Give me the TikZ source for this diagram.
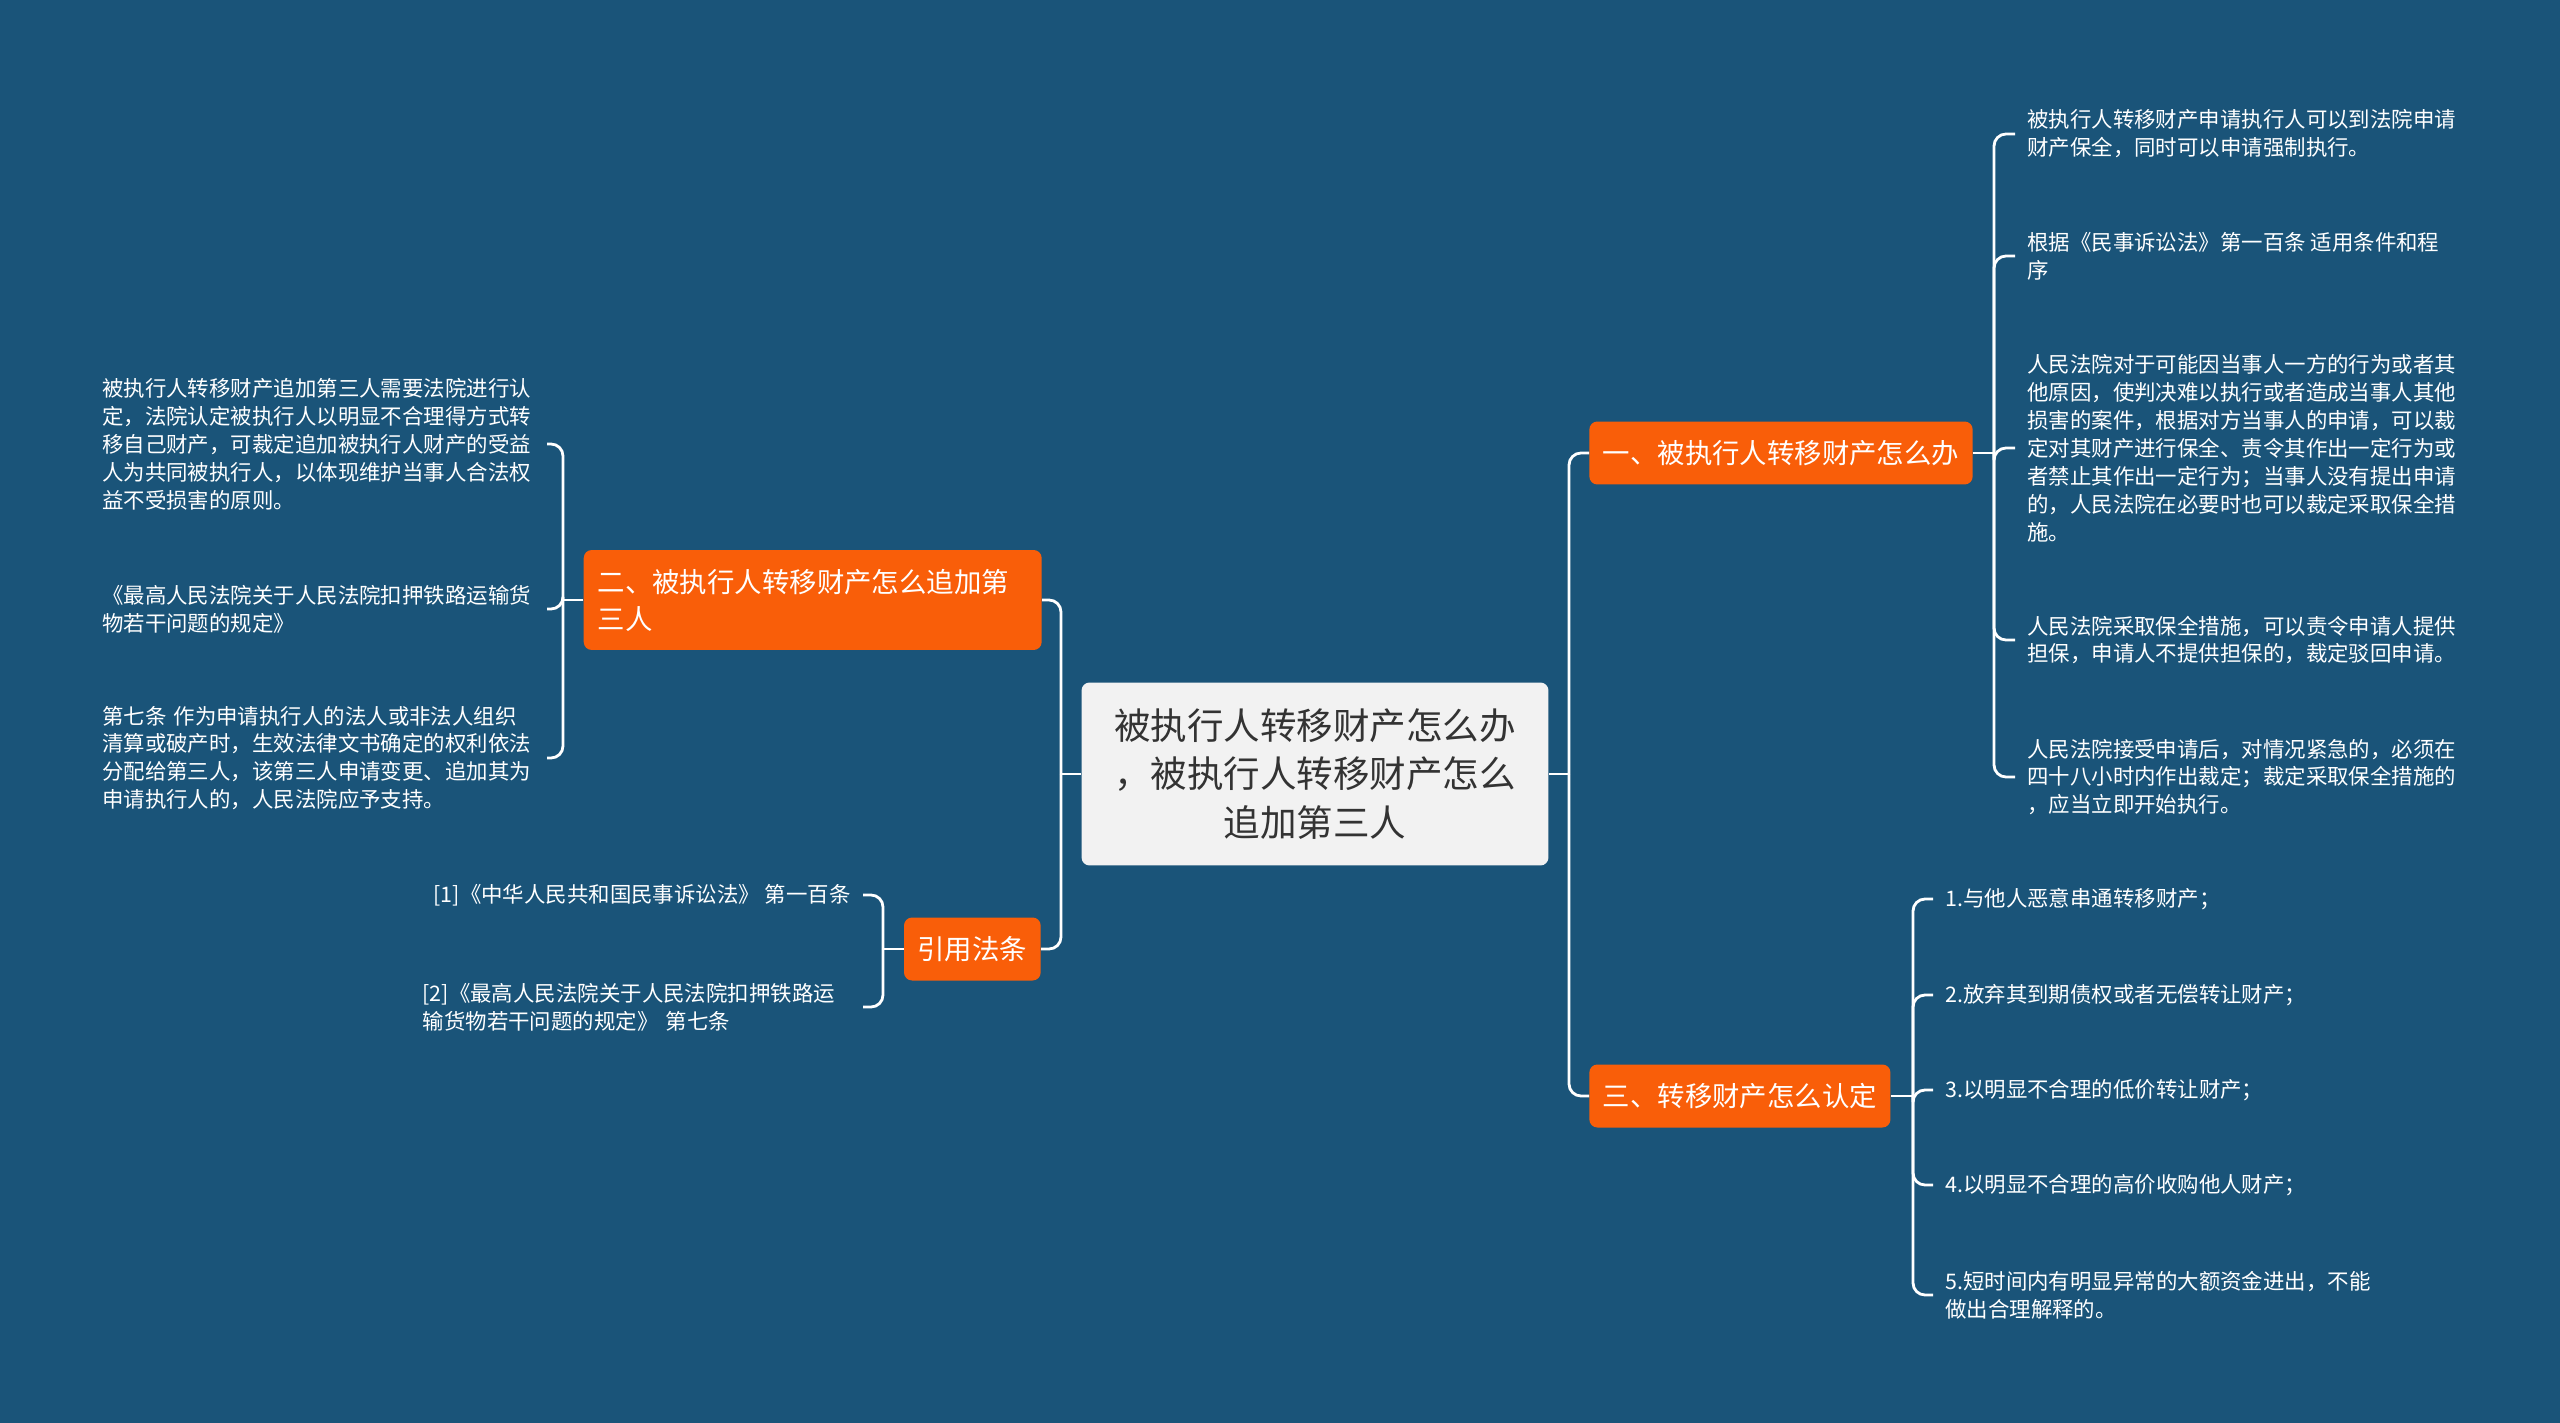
\documentclass[tikz,border=0pt]{standalone}
\usepackage{fontspec}
\setmainfont{Noto Sans CJK SC}
\usepackage{xcolor}
\usepackage{tikz}
\definecolor{bgblue}{RGB}{26,84,121}
\definecolor{branchorange}{RGB}{249,94,9}
\definecolor{rootgray}{RGB}{242,242,242}
\definecolor{roottext}{RGB}{51,51,51}

\begin{document}
\begin{tikzpicture}[x=0.02cm, y=-0.02cm,
  link/.style={draw=white, line width=1.6pt, rounded corners=0.24cm},
  rootbox/.style={fill=rootgray, text=roottext, rounded corners=0.16cm, align=center,
    font=\fontsize{20.8pt}{27.8pt}\selectfont, minimum width=9.34cm, minimum height=3.66cm},
  branchbox/.style={fill=branchorange, text=white, rounded corners=0.16cm,
    font=\fontsize{15.6pt}{21pt}\selectfont, inner xsep=0.27cm, minimum height=1.26cm},
  leaftext/.style={text=white, align=left, font=\fontsize{12.2pt}{15.9pt}\selectfont,
    inner xsep=0.24cm, inner ysep=0.1cm}]
\fill[bgblue] (0,0) rectangle (2560,1423);
\useasboundingbox (0,0) rectangle (2560,1423);

\node[rootbox] (root) at (1315,774) {被执行人转移财产怎么办\\，被执行人转移财产怎么\\追加第三人};

\node[branchbox, anchor=west] (b1) at (1589,453) {一、被执行人转移财产怎么办};
\node[branchbox, anchor=west] (b3) at (1589,1096) {三、转移财产怎么认定};
\node[branchbox, anchor=east, align=left, text width=8.6cm, inner xsep=0.28cm, minimum height=2cm] (b2) at (1042,600) {二、被执行人转移财产怎么追加第\\三人};
\node[branchbox, anchor=east] (b4) at (1041,949) {引用法条};

\node[leaftext, anchor=west] (c1) at (2015,134) {被执行人转移财产申请执行人可以到法院申请\\财产保全，同时可以申请强制执行。};
\node[leaftext, anchor=west] (c2) at (2015,256) {根据《民事诉讼法》第一百条 适用条件和程\\序};
\node[leaftext, anchor=west] (c3) at (2015,448) {人民法院对于可能因当事人一方的行为或者其\\他原因，使判决难以执行或者造成当事人其他\\损害的案件，根据对方当事人的申请，可以裁\\定对其财产进行保全、责令其作出一定行为或\\者禁止其作出一定行为；当事人没有提出申请\\的，人民法院在必要时也可以裁定采取保全措\\施。};
\node[leaftext, anchor=west] (c4) at (2015,640) {人民法院采取保全措施，可以责令申请人提供\\担保，申请人不提供担保的，裁定驳回申请。};
\node[leaftext, anchor=west] (c5) at (2015,777) {人民法院接受申请后，对情况紧急的，必须在\\四十八小时内作出裁定；裁定采取保全措施的\\，应当立即开始执行。};

\node[leaftext, anchor=west] (d1) at (1933,899) {1.与他人恶意串通转移财产；};
\node[leaftext, anchor=west] (d2) at (1933,995) {2.放弃其到期债权或者无偿转让财产；};
\node[leaftext, anchor=west] (d3) at (1933,1090) {3.以明显不合理的低价转让财产；};
\node[leaftext, anchor=west] (d4) at (1933,1185) {4.以明显不合理的高价收购他人财产；};
\node[leaftext, anchor=west] (d5) at (1933,1295) {5.短时间内有明显异常的大额资金进出，不能\\做出合理解释的。};

\node[leaftext, anchor=east, text width=8.65cm] (e1) at (547,444) {被执行人转移财产追加第三人需要法院进行认\\定，法院认定被执行人以明显不合理得方式转\\移自己财产，可裁定追加被执行人财产的受益\\人为共同被执行人，以体现维护当事人合法权\\益不受损害的原则。};
\node[leaftext, anchor=east, text width=8.65cm] (e2) at (547,609) {《最高人民法院关于人民法院扣押铁路运输货\\物若干问题的规定》};
\node[leaftext, anchor=east, text width=8.65cm] (e3) at (547,758) {第七条 作为申请执行人的法人或非法人组织\\清算或破产时，生效法律文书确定的权利依法\\分配给第三人，该第三人申请变更、追加其为\\申请执行人的，人民法院应予支持。};

\node[leaftext, anchor=east] (f1) at (863,895) {[1]《中华人民共和国民事诉讼法》 第一百条};
\node[leaftext, anchor=east, text width=8.56cm] (f2) at (863,1007) {[2]《最高人民法院关于人民法院扣押铁路运\\输货物若干问题的规定》 第七条};

\coordinate (rj) at (1569,774);
\coordinate (lj) at (1061,774);
\coordinate (j1) at (1994,453);
\coordinate (j3) at (1913,1096);
\coordinate (j2) at (563,600);
\coordinate (j4) at (883,949);

\draw[link] (root.east) -- (rj);
\draw[link] (rj) |- (b1.west);
\draw[link] (rj) |- (b3.west);
\draw[link] (root.west) -- (lj);
\draw[link] (lj) |- (b2.east);
\draw[link] (lj) |- (b4.east);

\draw[link] (b1.east) -- (j1);
\foreach \n in {c1,c2,c3,c4,c5} \draw[link] (j1) |- (\n.west);
\draw[link] (b3.east) -- (j3);
\foreach \n in {d1,d2,d3,d4,d5} \draw[link] (j3) |- (\n.west);
\draw[link] (b2.west) -- (j2);
\foreach \n in {e1,e2,e3} \draw[link] (j2) |- (\n.east);
\draw[link] (b4.west) -- (j4);
\foreach \n in {f1,f2} \draw[link] (j4) |- (\n.east);
\end{tikzpicture}
\end{document}
